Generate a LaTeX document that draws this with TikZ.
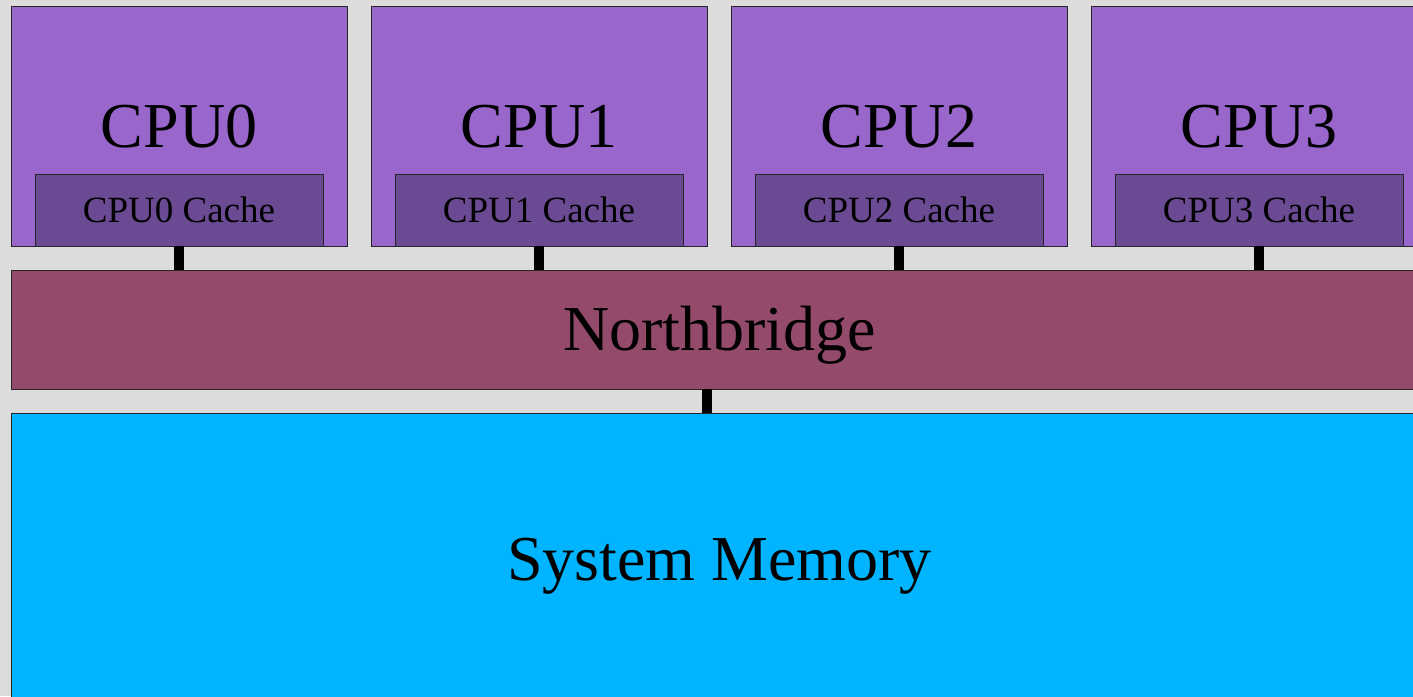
\documentclass[tikz,border=0pt]{standalone}
\usepackage{fontspec}
\setmainfont{Liberation Serif}
\definecolor{bgcol}{RGB}{220,220,220}
\definecolor{cpucol}{RGB}{153,102,204}
\definecolor{cachecol}{RGB}{107,74,148}
\definecolor{nbcol}{RGB}{148,74,107}
\definecolor{memcol}{RGB}{0,180,255}
\begin{document}
\begin{tikzpicture}[x=1pt,y=-1pt,
  box/.style={draw=black!85, line width=0.9pt, inner sep=0pt, outer sep=0pt, anchor=north west},
  bus/.style={line width=10pt, draw=black},
  biglabel/.style={font=\fontsize{64}{64}\selectfont, anchor=base, inner sep=0pt},
  smalllabel/.style={font=\fontsize{37}{37}\selectfont, anchor=base, inner sep=0pt}]
\useasboundingbox (0,0) rectangle (1413,696);
\fill[bgcol] (0,0) rectangle (1413,696);
\begin{scope}
\clip (0,0) rectangle (1413,696);
% four processors, each with its own cache
\foreach \i [evaluate=\i as \x using 11+360*\i] in {0,...,3} {
  \node[box, fill=cpucol, minimum width=336pt, minimum height=240pt] (cpu\i) at (\x,6) {};
  \node[box, fill=cachecol, minimum width=288pt, minimum height=72pt] (cache\i) at (\x+24,174) {};
  \node[biglabel] (cpulabel\i) at (\x+168,147) {CPU\i};
  \node[smalllabel] (cachelabel\i) at (\x+168,222) {CPU\i{} Cache};
}
% shared bridge and memory
\node[box, fill=nbcol, minimum width=1417pt, minimum height=119pt] (nb) at (11,270) {};
\node[biglabel] (nblabel) at (719.5,350) {Northbridge};
\node[box, fill=memcol, minimum width=1417pt, minimum height=300pt] (mem) at (11,413) {};
\node[biglabel] (memlabel) at (719.5,580) {System Memory};
% buses
\foreach \i in {0,...,3} {
  \draw[bus] (cache\i.south) -- (cache\i.south |- nb.north);
}
\coordinate (membus) at (707,389);
\draw[bus] (membus) -- (membus |- mem.north);
\end{scope}
\end{tikzpicture}
\end{document}
